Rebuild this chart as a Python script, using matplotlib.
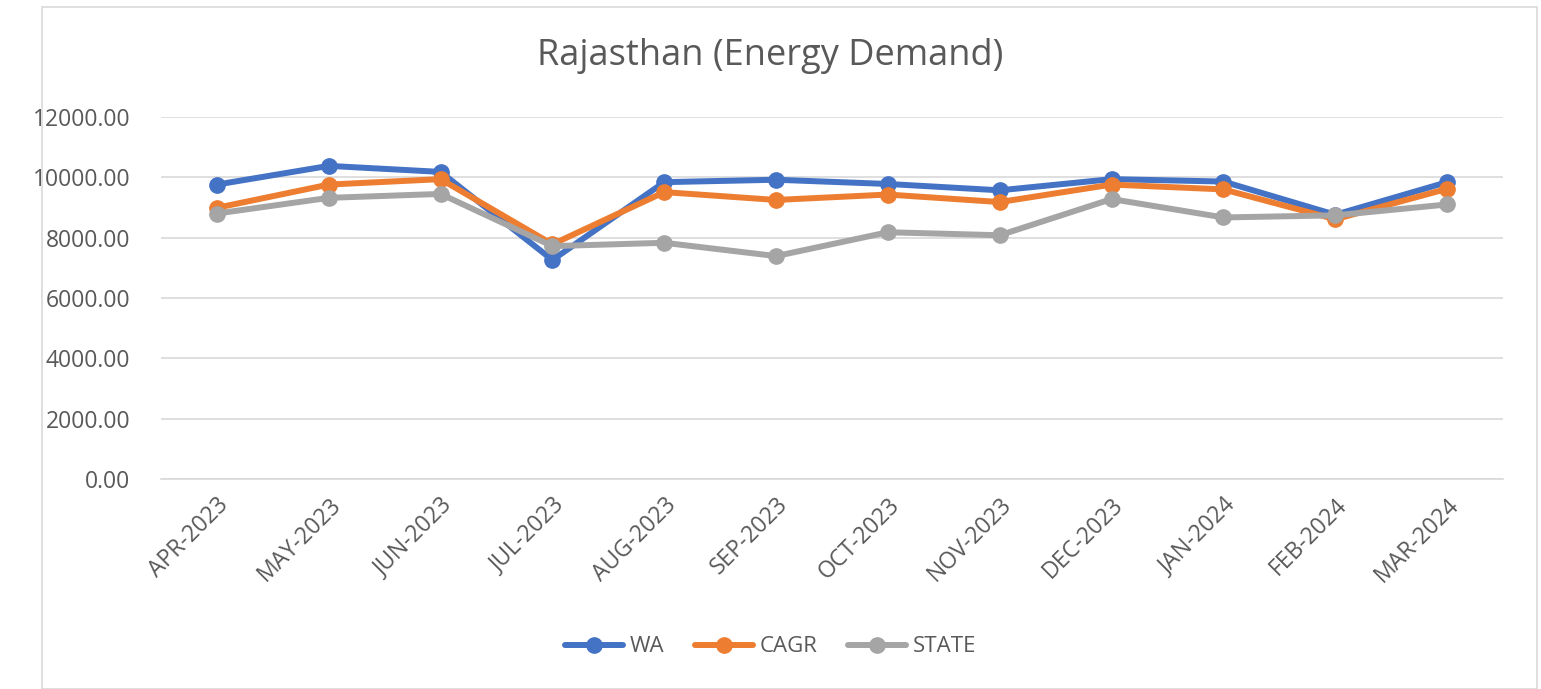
import matplotlib.pyplot as plt
from matplotlib.patches import Rectangle

months = ["APR-2023", "MAY-2023", "JUN-2023", "JUL-2023", "AUG-2023", "SEP-2023",
          "OCT-2023", "NOV-2023", "DEC-2023", "JAN-2024", "FEB-2024", "MAR-2024"]
wa = [9760, 10380, 10180, 7260, 9840, 9920, 9780, 9570, 9940, 9860, 8760, 9840]
cagr = [8990, 9760, 9940, 7780, 9510, 9250, 9430, 9180, 9760, 9600, 8610, 9620]
state = [8800, 9320, 9450, 7720, 7830, 7390, 8180, 8080, 9280, 8670, 8740, 9100]
yticks = [0, 2000, 4000, 6000, 8000, 10000, 12000]

W, H = 1541, 689
fig = plt.figure(figsize=(W / 100, H / 100), dpi=100)
fig.patches.append(Rectangle((42 / W, 0), (1537 - 42) / W, (H - 7) / H,
                             transform=fig.transFigure, fill=False,
                             edgecolor="#d9d9d9", linewidth=1.2))

ax = fig.add_axes([161 / W, 1 - 479 / H, (1503 - 161) / W, (479 - 117) / H])
x = list(range(len(months)))
for vals, col, name in [(wa, "#4472C4", "WA"), (cagr, "#ED7D31", "CAGR"),
                        (state, "#A5A5A5", "STATE")]:
    ax.plot(x, vals, color=col, lw=4.3, marker="o", ms=11, label=name,
            solid_capstyle="round")

ax.set_xlim(-0.5, len(months) - 0.5)
ax.set_ylim(0, 12000)
ax.set_yticks(yticks)
ax.set_yticklabels([f"{v:.2f}" for v in yticks])
ax.set_xticks(x)
ax.set_xticklabels(months, rotation=45, ha="right", rotation_mode="anchor")
ax.grid(axis="y", color="#d9d9d9", lw=1.2)
ax.set_axisbelow(True)
for s in ["top", "right", "left"]:
    ax.spines[s].set_visible(False)
ax.spines["bottom"].set_color("#d9d9d9")
ax.spines["bottom"].set_linewidth(1.2)
ax.tick_params(length=0, labelsize=16.5, colors="#595959")
ax.tick_params(axis="y", pad=22)
ax.tick_params(axis="x", pad=10)
for lab in ax.get_yticklabels() + ax.get_xticklabels():
    lab.set_fontfamily("Open Sans")

fig.text(0.5, 1 - 56 / H, "Rajasthan (Energy Demand)", ha="center", va="center",
         fontsize=26, color="#595959", family="Open Sans")
fig.legend(loc="center", bbox_to_anchor=(0.5, 1 - 647 / H), ncol=3, frameon=False,
           prop={"family": "Open Sans", "size": 16}, labelcolor="#595959",
           handlelength=2.6, columnspacing=1.4, handletextpad=0.3)

fig.savefig("out.png", dpi=100)
